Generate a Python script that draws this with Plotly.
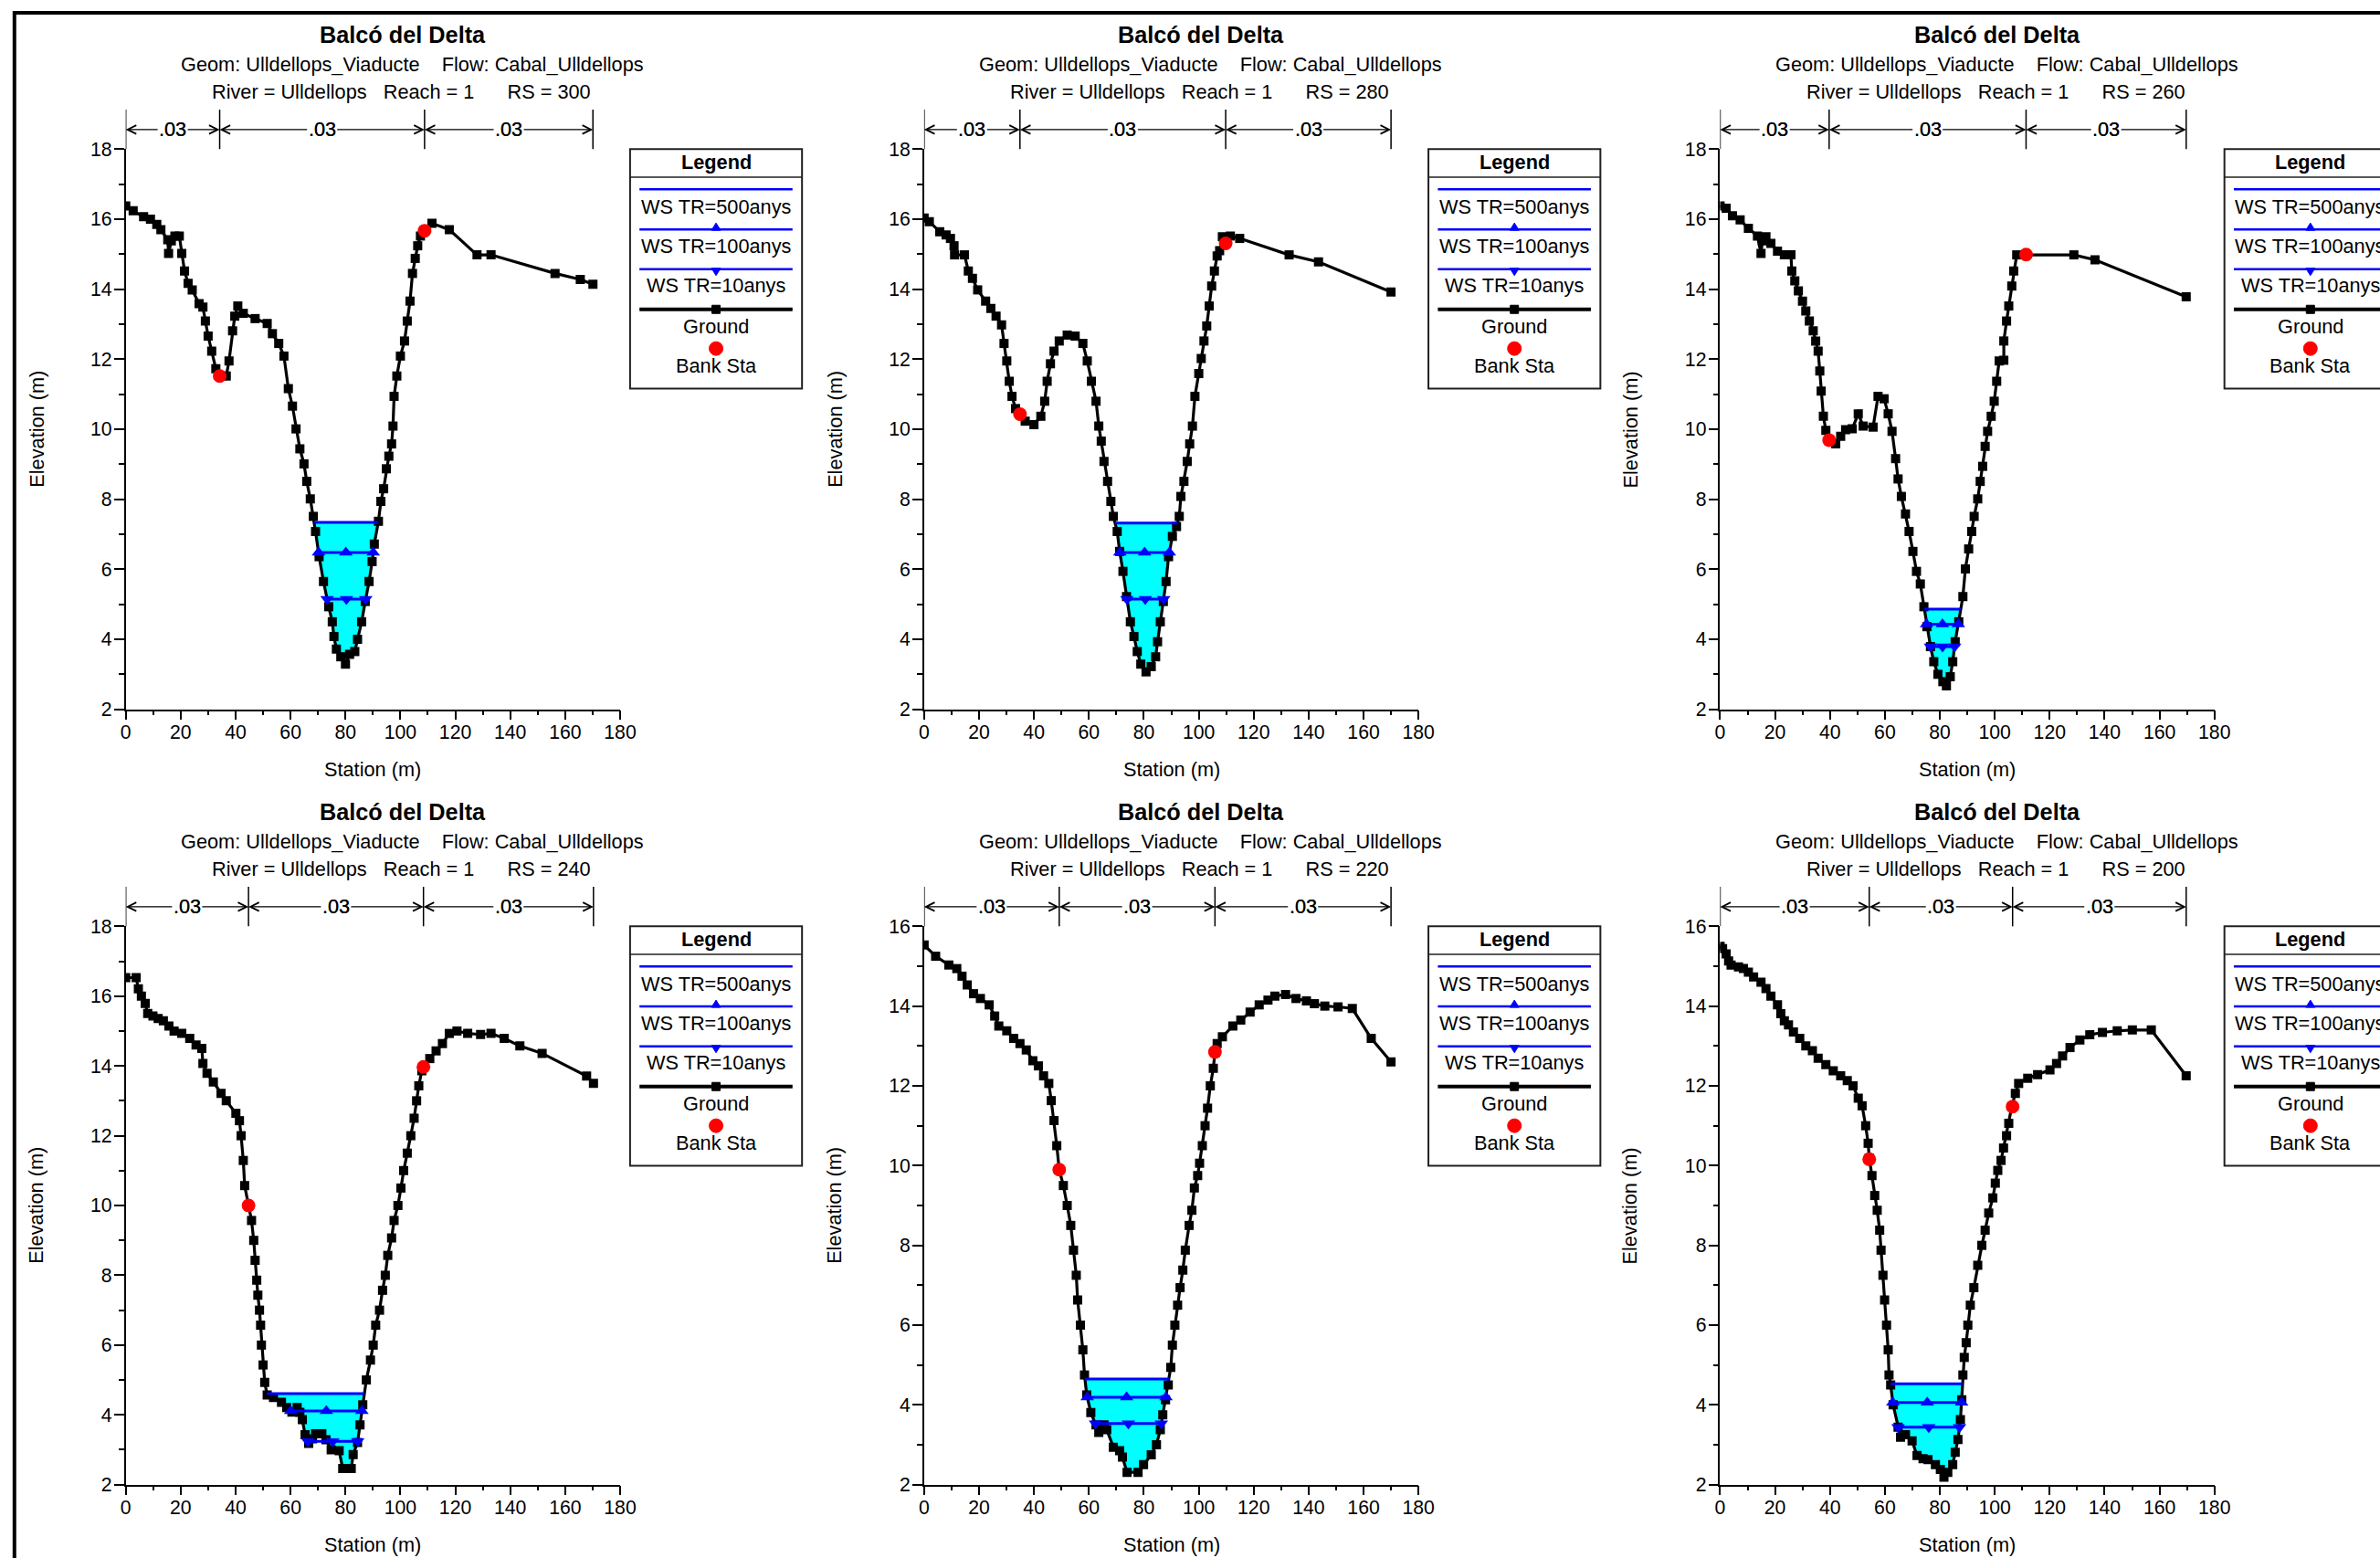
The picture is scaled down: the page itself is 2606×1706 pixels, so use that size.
import plotly.graph_objects as go

FONT = "Liberation Sans, Arial, Helvetica, sans-serif"

# ---------------- data ----------------
RIVER_STATIONS = ["300", "280", "260", "240", "220", "200"]
TITLE = "Balcó del Delta"
GEOM = "Ulldellops_Viaducte"
FLOW = "Cabal_Ulldellops"
RIVER = "Ulldellops"
REACH = "1"
N_VALUES = [".03", ".03", ".03"]
PROFILE_NAMES = ["WS TR=500anys", "WS TR=100anys", "WS TR=10anys"]
Y_TOPS = [18, 18, 18, 18, 16, 16]

GROUND_300 = [(0, 16.38), (2.7, 16.24), (6.5, 16.07), (9.0, 16.0), (11.3, 15.85), (12.8, 15.70),
              (15.3, 15.41), (15.6, 15.02), (16.6, 15.38), (17.9, 15.52), (19.5, 15.52), (20.4, 15.02),
              (21.4, 14.52), (22.7, 14.17), (24.2, 13.98), (26.7, 13.59), (28.1, 13.49), (29.0, 13.09),
              (30.0, 12.66), (31.3, 12.23), (32.8, 11.73), (34.4, 11.52), (36.6, 11.52), (37.6, 11.95),
              (38.9, 12.81), (39.7, 13.23), (40.8, 13.52), (42.8, 13.31), (47.1, 13.16), (51.5, 13.02),
              (53.4, 12.73), (55.7, 12.45), (57.6, 12.09), (59.2, 11.16), (60.7, 10.66), (62.0, 10.01),
              (63.4, 9.44), (64.9, 9.01), (65.9, 8.51), (67.2, 8.01), (68.3, 7.51), (69.1, 7.08),
              (70.4, 6.36), (72.0, 5.65), (73.9, 4.93), (75.2, 4.50), (75.8, 4.08), (76.7, 3.72),
              (78.3, 3.50), (80.0, 3.29), (81.5, 3.57), (83.4, 3.65), (84.4, 4.00), (85.9, 4.50),
              (87.2, 5.08), (88.6, 5.65), (89.7, 6.22), (90.5, 6.72), (92.0, 7.37), (92.9, 7.94),
              (93.9, 8.30), (94.9, 8.87), (95.8, 9.23), (96.8, 9.58), (97.3, 10.09), (97.7, 10.94),
              (98.7, 11.52), (100.0, 12.09), (101.5, 12.52), (102.5, 13.09), (103.5, 13.66), (104.4, 14.45),
              (105.4, 14.88), (106.3, 15.24), (107.3, 15.52), (108.8, 15.67), (111.5, 15.88), (117.8, 15.70),
              (127.9, 14.98), (133.0, 14.98), (156.3, 14.45), (165.5, 14.28), (170.1, 14.14)]
BANKS_300 = [(34.2, 11.52), (108.8, 15.67)]
WS_300 = [7.34, 6.48, 5.15]

GROUND_280 = [(0, 16.03), (1.9, 15.93), (5.7, 15.64), (8.0, 15.55), (9.6, 15.45), (10.9, 15.24),
              (11.1, 14.98), (14.7, 14.98), (16.1, 14.52), (17.6, 14.31), (19.5, 13.98), (22.4, 13.66),
              (24.3, 13.45), (26.2, 13.23), (28.2, 12.98), (29.1, 12.45), (30.1, 11.95), (31.0, 11.37),
              (32.0, 10.94), (33.3, 10.59), (34.9, 10.44), (36.8, 10.23), (40.0, 10.13), (42.5, 10.37),
              (43.9, 10.80), (44.8, 11.37), (46.0, 11.87), (47.3, 12.23), (49.2, 12.52), (52.1, 12.69),
              (55.0, 12.66), (57.8, 12.45), (59.4, 11.95), (60.9, 11.37), (62.6, 10.80), (63.6, 10.09),
              (64.5, 9.66), (65.5, 9.08), (66.8, 8.51), (68.0, 7.94), (68.9, 7.51), (70.3, 7.08),
              (71.2, 6.51), (72.4, 5.94), (73.7, 5.22), (75.1, 4.50), (76.4, 4.08), (77.6, 3.65),
              (78.9, 3.29), (80.8, 3.07), (82.7, 3.22), (84.3, 3.50), (85.0, 3.93), (86.0, 4.50),
              (87.1, 5.08), (88.1, 5.65), (89.0, 6.36), (90.4, 6.94), (91.9, 7.22), (92.9, 7.51),
              (93.5, 8.08), (94.6, 8.51), (95.8, 9.08), (96.7, 9.58), (97.7, 10.09), (98.6, 10.94),
              (100.0, 11.59), (100.9, 12.02), (101.9, 12.52), (102.9, 12.95), (103.8, 13.52), (104.7, 14.09),
              (105.7, 14.52), (106.7, 14.95), (107.6, 15.10), (108.6, 15.50), (109.8, 15.31), (111.5, 15.52),
              (114.9, 15.45), (132.9, 14.98), (143.6, 14.78), (170.0, 13.92)]
BANKS_280 = [(34.9, 10.43), (109.8, 15.31)]
WS_280 = [7.32, 6.48, 5.15]

GROUND_260 = [(0, 16.38), (2.2, 16.31), (4.5, 16.10), (7.3, 15.98), (10.3, 15.74), (13.6, 15.52),
              (14.9, 15.02), (15.4, 15.38), (16.7, 15.50), (18.5, 15.31), (20.9, 15.09), (23.4, 14.98),
              (25.8, 14.98), (26.1, 14.52), (27.2, 14.24), (28.5, 13.95), (30.0, 13.66), (31.2, 13.38),
              (32.5, 13.09), (33.9, 12.81), (34.8, 12.52), (35.7, 12.23), (36.3, 11.66), (36.8, 11.09),
              (37.6, 10.37), (38.5, 9.97), (39.7, 9.68), (42.1, 9.58), (43.9, 9.80), (45.7, 9.99),
              (48.1, 10.01), (50.3, 10.44), (52.1, 10.09), (55.7, 10.06), (57.5, 10.94), (59.7, 10.87),
              (61.2, 10.44), (62.6, 9.94), (63.9, 9.16), (64.8, 8.58), (66.0, 8.08), (67.5, 7.58),
              (68.8, 7.08), (70.2, 6.51), (71.5, 5.94), (72.9, 5.58), (74.2, 4.93), (75.3, 4.36),
              (76.6, 3.79), (77.8, 3.36), (79.3, 3.00), (81.1, 2.79), (82.4, 2.67), (83.8, 2.93),
              (84.7, 3.36), (85.6, 3.93), (86.9, 4.50), (88.4, 5.22), (89.3, 6.01), (90.5, 6.58),
              (91.6, 7.08), (92.5, 7.51), (93.8, 8.01), (94.7, 8.51), (95.6, 8.94), (96.5, 9.51),
              (97.4, 9.94), (98.7, 10.37), (99.8, 10.80), (100.7, 11.37), (101.6, 11.95), (103.3, 11.97),
              (103.3, 12.52), (104.3, 13.09), (105.1, 13.52), (106.2, 14.09), (106.9, 14.52), (108.0, 14.98),
              (111.4, 14.98), (128.8, 14.98), (136.5, 14.84), (169.7, 13.78)]
BANKS_260 = [(39.7, 9.69), (111.4, 14.99)]
WS_260 = [4.86, 4.43, 3.79]

GROUND_240 = [(0, 16.53), (3.8, 16.53), (4.6, 16.21), (5.7, 16.0), (7.1, 15.79), (8.0, 15.5),
              (9.9, 15.43), (11.8, 15.36), (13.7, 15.29), (15.7, 15.14), (17.6, 15.0), (20.4, 14.93),
              (23.3, 14.79), (25.6, 14.6), (27.7, 14.5), (28.1, 14.07), (29.6, 13.79), (31.9, 13.54),
              (34.7, 13.21), (36.6, 13.0), (40.1, 12.64), (41.4, 12.43), (42.0, 12.0), (42.8, 11.29),
              (43.3, 10.57), (44.7, 10.0), (45.8, 9.57), (46.6, 9.0), (47.1, 8.43), (47.7, 7.86),
              (48.1, 7.43), (48.7, 7.0), (49.1, 6.57), (49.4, 6.0), (50.0, 5.43), (50.6, 4.93),
              (51.5, 4.57), (53.8, 4.5), (56.7, 4.36), (58.6, 4.21), (60.5, 4.08), (62.4, 4.21),
              (63.4, 4.07), (64.3, 3.86), (65.3, 3.43), (66.6, 3.18), (68.0, 3.31), (69.1, 3.46),
              (71.4, 3.46), (72.9, 3.29), (74.8, 3.0), (77.7, 2.97), (79.0, 2.46), (82.1, 2.46),
              (82.8, 2.86), (84.4, 3.21), (85.3, 3.71), (86.3, 4.29), (87.6, 5.0), (89.1, 5.57),
              (90.1, 6.0), (91.0, 6.57), (92.4, 7.0), (93.5, 7.57), (94.5, 8.0), (95.4, 8.57),
              (96.8, 9.07), (97.7, 9.57), (99.1, 10.0), (100.2, 10.5), (101.2, 11.0), (102.5, 11.5),
              (103.8, 12.0), (105.0, 12.5), (105.9, 13.0), (106.7, 13.43), (107.8, 13.86), (108.4, 13.97),
              (110.7, 14.21), (113.0, 14.43), (115.3, 14.64), (117.8, 14.93), (120.6, 15.0), (124.5, 14.93),
              (129.2, 14.9), (133.0, 14.93), (137.8, 14.79), (143.5, 14.57), (151.6, 14.36), (167.8, 13.71),
              (170.3, 13.5)]
BANKS_240 = [(44.7, 10.0), (108.4, 13.97)]
WS_240 = [4.61, 4.11, 3.24]

GROUND_220 = [(0, 15.53), (4.2, 15.25), (9.0, 15.03), (11.9, 14.94), (13.8, 14.75), (15.7, 14.53),
              (18.0, 14.31), (20.5, 14.19), (23.7, 14.03), (25.7, 13.75), (27.2, 13.5), (30.1, 13.38),
              (32.6, 13.19), (34.9, 13.06), (37.2, 12.9), (39.6, 12.63), (41.6, 12.5), (43.5, 12.25),
              (45.4, 12.06), (46.3, 11.63), (47.3, 11.13), (48.3, 10.5), (49.2, 9.9), (50.7, 9.5),
              (52.1, 9.0), (53.4, 8.5), (54.4, 7.88), (55.4, 7.25), (55.9, 6.63), (56.9, 6.0),
              (57.8, 5.38), (58.4, 4.75), (59.2, 4.25), (60.7, 3.81), (62.6, 3.5), (63.6, 3.31),
              (65.5, 3.5), (66.5, 3.38), (68.9, 2.94), (71.2, 2.85), (72.2, 2.69), (73.9, 2.31),
              (77.9, 2.31), (79.9, 2.5), (82.7, 2.75), (84.6, 3.0), (86.0, 3.38), (86.9, 3.75),
              (87.9, 4.13), (88.9, 4.5), (89.8, 4.94), (90.4, 5.5), (91.3, 6.0), (92.3, 6.5),
              (93.2, 6.94), (94.2, 7.38), (95.1, 7.88), (96.5, 8.5), (97.5, 8.88), (98.4, 9.44),
              (99.6, 9.75), (100.3, 10.06), (101.3, 10.5), (102.3, 11.0), (103.2, 11.44), (104.2, 12.0),
              (105.3, 12.44), (105.9, 12.84), (106.7, 13.06), (108.6, 13.23), (112.4, 13.5), (115.3, 13.65),
              (118.7, 13.85), (122.0, 14.03), (125.2, 14.15), (127.7, 14.25), (131.6, 14.29), (135.4, 14.19),
              (139.2, 14.13), (142.1, 14.06), (145.9, 14.0), (150.7, 13.98), (155.9, 13.94), (162.8, 13.19),
              (170.0, 12.6)]
BANKS_220 = [(49.2, 9.9), (105.9, 12.85)]
WS_220 = [4.65, 4.19, 3.53]

GROUND_200 = [(0, 15.5), (0.9, 15.44), (2.2, 15.31), (3.1, 15.13), (4.0, 15.03), (6.7, 14.98),
              (8.5, 14.94), (10.3, 14.85), (12.2, 14.73), (14.9, 14.6), (16.7, 14.44), (18.5, 14.25),
              (20.9, 14.03), (22.1, 13.81), (23.4, 13.63), (24.9, 13.53), (26.7, 13.35), (29.0, 13.19),
              (31.2, 13.0), (33.6, 12.88), (35.7, 12.69), (38.5, 12.53), (41.2, 12.38), (43.9, 12.25),
              (46.3, 12.13), (48.4, 12.0), (50.3, 11.69), (51.7, 11.5), (53.0, 11.0), (53.9, 10.56),
              (54.3, 10.19), (55.3, 9.75), (56.3, 9.25), (57.2, 8.88), (58.1, 8.38), (58.6, 7.88),
              (59.3, 7.25), (59.9, 6.63), (60.6, 6.0), (61.2, 5.38), (61.5, 4.75), (62.1, 4.5),
              (63.0, 4.0), (64.8, 3.44), (65.7, 3.19), (67.5, 3.25), (69.9, 3.1), (71.7, 2.73),
              (73.9, 2.65), (75.7, 2.63), (78.4, 2.5), (80.2, 2.38), (81.5, 2.19), (82.9, 2.31),
              (84.7, 2.5), (85.6, 2.81), (86.6, 3.13), (87.5, 3.63), (88.0, 4.13), (88.4, 4.75),
              (88.9, 5.19), (89.6, 5.56), (90.2, 6.0), (91.1, 6.5), (92.4, 6.94), (93.8, 7.5),
              (95.3, 8.0), (96.5, 8.38), (97.8, 8.81), (99.3, 9.19), (100.2, 9.56), (101.1, 9.88),
              (102.3, 10.13), (103.2, 10.44), (104.3, 10.75), (105.1, 11.06), (106.2, 11.48), (107.5, 11.81),
              (108.7, 12.06), (112.0, 12.19), (115.6, 12.28), (120.1, 12.4), (122.5, 12.56), (124.7, 12.75),
              (127.4, 12.96), (131.0, 13.15), (134.6, 13.28), (139.2, 13.34), (144.6, 13.38), (150.1, 13.4),
              (157.0, 13.4), (169.7, 12.25)]
BANKS_200 = [(54.3, 10.16), (106.5, 11.48)]
WS_200 = [4.53, 4.06, 3.44]

SECTIONS = [
    (GROUND_300, BANKS_300, WS_300),
    (GROUND_280, BANKS_280, WS_280),
    (GROUND_260, BANKS_260, WS_260),
    (GROUND_240, BANKS_240, WS_240),
    (GROUND_220, BANKS_220, WS_220),
    (GROUND_200, BANKS_200, WS_200),
]

# ---------------- layout geometry ----------------
# target positions (pixels of the 2606x1706 picture) and the page->picture mapping
SX, DX = 0.991, 4.9
SY, DY = 0.9865, 11.6
FIG_W, FIG_H = 2626, 1718
FS = 1.0 / 0.989           # font/size compensation for the mapping scale

COL_X0 = [136.6, 1010.9, 1882.6]
ROW_Y0 = [162.9, 1013.8]
PLOT_W = 541.4
PLOT_H = [613.3, 611.3]


def px(t):
    return ((t - DX) / SX) / FIG_W


def py(t):
    return 1 - ((t - DY) / SY) / FIG_H


def ws_span(st, el, ws, bl, br):
    i = next(k for k in range(len(st)) if st[k] >= bl)
    while el[i] >= ws:
        i += 1
    xl = st[i - 1] + (ws - el[i - 1]) * (st[i] - st[i - 1]) / (el[i] - el[i - 1])
    j = max(k for k in range(len(st)) if st[k] <= br)
    while el[j] >= ws:
        j -= 1
    xr = st[j] + (ws - el[j]) * (st[j + 1] - st[j]) / (el[j + 1] - el[j])
    return xl, xr, i, j


fig = go.Figure()
shapes = []
annotations = []
axes = {}

txt = dict(family=FONT, size=21.5 * FS, color="black")
NB = "\u00a0"

for p, (ground, banks, wss) in enumerate(SECTIONS):
    r, c = divmod(p, 3)
    X0, Y0, PH = COL_X0[c], ROW_Y0[r], PLOT_H[r]
    n = p + 1
    sfx = "" if n == 1 else str(n)
    xa, ya = "x" + sfx, "y" + sfx
    st = [g[0] for g in ground]
    el = [g[1] for g in ground]
    bl, br = banks[0][0], banks[1][0]

    common = dict(showgrid=False, zeroline=False, showline=True, linecolor="black", linewidth=1.5,
                  ticks="outside", tickcolor="black", tickwidth=1.5,
                  tickfont=dict(family=FONT, size=21 * FS, color="black"))
    axes["xaxis" + sfx] = dict(common, domain=[px(X0), px(X0 + PLOT_W)], anchor=ya,
                               range=[0, 180], tick0=0, dtick=20, ticklen=10,
                               ticklabelstandoff=-5,
                               minor=dict(ticks="outside", ticklen=5, dtick=10, tick0=0,
                                          tickcolor="black", tickwidth=1.5, showgrid=False))
    axes["yaxis" + sfx] = dict(common, domain=[py(Y0 + PH), py(Y0)], anchor=xa,
                               range=[2, Y_TOPS[p]], tick0=0, dtick=2, ticklen=11,
                               ticklabelstandoff=-2,
                               minor=dict(ticks="outside", ticklen=6, dtick=1, tick0=0,
                                          tickcolor="black", tickwidth=1.5, showgrid=False))

    xl, xr, i, j = ws_span(st, el, wss[0], bl, br)
    fx = [xl] + st[i:j + 1] + [xr]
    fy = [wss[0]] + [min(e, wss[0]) for e in el[i:j + 1]] + [wss[0]]
    fig.add_trace(go.Scatter(x=fx, y=fy, fill="toself", fillcolor="#00FFFF", mode="lines",
                             line=dict(width=0, color="#00FFFF"), xaxis=xa, yaxis=ya,
                             hoverinfo="skip", showlegend=False))
    fig.add_trace(go.Scatter(x=st, y=el, mode="lines+markers", name="Ground",
                             line=dict(color="black", width=3.2),
                             marker=dict(symbol="square", size=10, color="black"),
                             xaxis=xa, yaxis=ya, showlegend=False))
    symbols = [None, "triangle-up", "triangle-down"]
    for k, ws in enumerate(wss):
        a, b, _, _ = ws_span(st, el, ws, bl, br)
        tr = dict(x=[a, (a + b) / 2, b], y=[ws, ws, ws], xaxis=xa, yaxis=ya, showlegend=False,
                  name=PROFILE_NAMES[k], line=dict(color="#0000FF", width=3))
        if symbols[k] is None:
            fig.add_trace(go.Scatter(mode="lines", **tr))
        else:
            fig.add_trace(go.Scatter(mode="lines+markers",
                                     marker=dict(symbol=symbols[k], size=13, color="#0000FF"), **tr))
    fig.add_trace(go.Scatter(x=[b[0] for b in banks], y=[b[1] for b in banks], mode="markers",
                             name="Bank Sta", marker=dict(symbol="circle", size=15, color="#FF0000"),
                             xaxis=xa, yaxis=ya, showlegend=False))

    bars = [st[0], bl, br, st[-1]]
    for b in bars:
        shapes.append(dict(type="line", xref=xa, yref="paper", x0=b, x1=b,
                           y0=py(Y0), y1=py(Y0 - 43.3), line=dict(color="black", width=1.5)))
    for s in range(3):
        a, b = bars[s], bars[s + 1]
        mid = (a + b) / 2
        for head in (a, b):
            annotations.append(dict(x=head, y=py(Y0 - 21.4), xref=xa, yref="paper",
                                    ax=mid, axref=xa, ay=0, ayref="pixel",
                                    text=N_VALUES[s], showarrow=True, arrowhead=5, arrowsize=1.7,
                                    arrowwidth=1.1, arrowcolor="black", font=txt))

    annotations.append(dict(x=px(X0 + 303.2), y=py(Y0 - 125.6), xref="paper", yref="paper",
                            text="<b>" + TITLE + "</b>", showarrow=False, xanchor="center",
                            yanchor="middle", font=dict(family=FONT, size=25 * FS, color="black")))
    annotations.append(dict(x=px(X0 + 313.7), y=py(Y0 - 93.2), xref="paper", yref="paper",
                            text="Geom: " + GEOM + NB * 4 + "Flow: " + FLOW, showarrow=False,
                            xanchor="center", yanchor="middle", font=txt))
    annotations.append(dict(x=px(X0 + 301.7), y=py(Y0 - 62.5), xref="paper", yref="paper",
                            text="River = " + RIVER + NB * 3 + "Reach = " + REACH + NB * 6 +
                                 "RS = " + RIVER_STATIONS[p],
                            showarrow=False, xanchor="center", yanchor="middle", font=txt))
    annotations.append(dict(x=px(X0 + PLOT_W / 2), y=py(Y0 + PH + 66), xref="paper", yref="paper",
                            text="Station (m)", showarrow=False, xanchor="center", yanchor="middle",
                            font=txt))
    annotations.append(dict(x=px(X0 - 98), y=py(Y0 + PH / 2), xref="paper", yref="paper",
                            text="Elevation (m)", showarrow=False, textangle=-90,
                            xanchor="center", yanchor="middle", font=txt))

    LX0, LX1 = X0 + 552.3, X0 + 740.6
    LCX = (LX0 + LX1) / 2
    shapes.append(dict(type="rect", xref="paper", yref="paper", x0=px(LX0), x1=px(LX1),
                       y0=py(Y0 + 262.2), y1=py(Y0), line=dict(color="#202020", width=2),
                       fillcolor="white", layer="above"))
    shapes.append(dict(type="line", xref="paper", yref="paper", x0=px(LX0), x1=px(LX1),
                       y0=py(Y0 + 30.6), y1=py(Y0 + 30.6), line=dict(color="#202020", width=1.5)))
    annotations.append(dict(x=px(LCX), y=py(Y0 + 14.5), xref="paper", yref="paper",
                            text="<b>Legend</b>", showarrow=False, xanchor="center",
                            yanchor="middle", font=txt))
    line_offs = [43.9, 87.8, 131.4, 175.4]
    line_cols = ["#0000FF", "#0000FF", "#0000FF", "black"]
    line_ws = [2.5, 2.5, 2.5, 4]
    for k in range(4):
        shapes.append(dict(type="line", xref="paper", yref="paper", x0=px(X0 + 562.6),
                           x1=px(X0 + 730.2), y0=py(Y0 + line_offs[k]), y1=py(Y0 + line_offs[k]),
                           line=dict(color=line_cols[k], width=line_ws[k])))
    shapes.append(dict(type="path", xref="paper", yref="paper", xsizemode="pixel", ysizemode="pixel",
                       xanchor=px(LCX), yanchor=py(Y0 + line_offs[1]), path="M-5,-1L5,-1L0,7Z",
                       fillcolor="#0000FF", line=dict(color="#0000FF", width=1)))
    shapes.append(dict(type="path", xref="paper", yref="paper", xsizemode="pixel", ysizemode="pixel",
                       xanchor=px(LCX), yanchor=py(Y0 + line_offs[2]), path="M-5,1L5,1L0,-7Z",
                       fillcolor="#0000FF", line=dict(color="#0000FF", width=1)))
    shapes.append(dict(type="rect", xref="paper", yref="paper", xsizemode="pixel", ysizemode="pixel",
                       xanchor=px(LCX), yanchor=py(Y0 + line_offs[3]), x0=-4.5, x1=4.5, y0=-4.5, y1=4.5,
                       fillcolor="black", line=dict(color="black", width=1)))
    shapes.append(dict(type="circle", xref="paper", yref="paper", xsizemode="pixel", ysizemode="pixel",
                       xanchor=px(LCX), yanchor=py(Y0 + 218.3), x0=-7.5, x1=7.5, y0=-7.5, y1=7.5,
                       fillcolor="#FF0000", line=dict(color="#FF0000", width=1)))
    leg_text = PROFILE_NAMES + ["Ground", "Bank Sta"]
    text_offs = [63.6, 106.3, 149.5, 193.8, 237.1]
    for k in range(5):
        annotations.append(dict(x=px(LCX), y=py(Y0 + text_offs[k]), xref="paper", yref="paper",
                                text=leg_text[k], showarrow=False, xanchor="center",
                                yanchor="middle", font=txt))

# outer frame (left and top edges visible)
shapes.append(dict(type="rect", xref="paper", yref="paper", x0=px(14.7), x1=1.05,
                   y0=-0.05, y1=py(13.5), line=dict(color="black", width=4)))

fig.update_layout(width=FIG_W, height=FIG_H, margin=dict(l=0, r=0, t=0, b=0),
                  paper_bgcolor="white", plot_bgcolor="white", showlegend=False,
                  shapes=shapes, annotations=annotations, **axes)

fig.write_html("out.html", config={"displayModeBar": False},
               post_script="document.documentElement.style.overflow='hidden';"
                           "document.body.style.margin='0';document.body.style.overflow='hidden';")
